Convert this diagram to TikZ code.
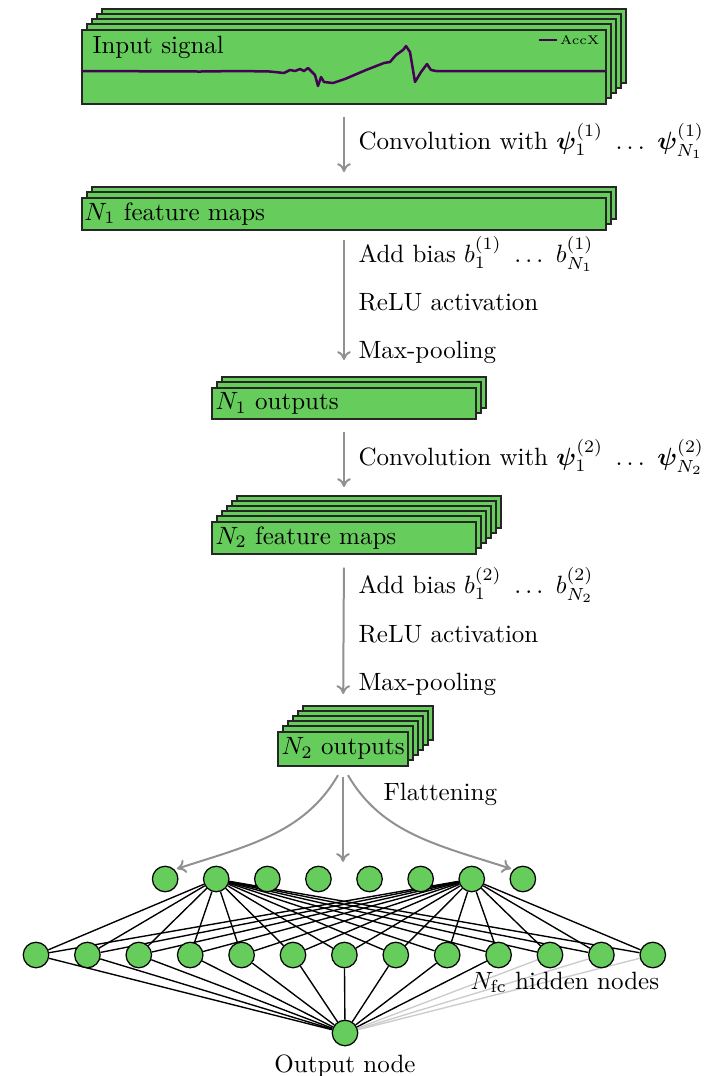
\documentclass[tikz,border=0pt]{standalone}
\usepackage{amsmath}
\usepackage{bm}
\usetikzlibrary{positioning,backgrounds,arrows.meta}

\definecolor{mapgreen}{RGB}{102,204,92}
\definecolor{accpurple}{RGB}{68,1,84}
\definecolor{flowgray}{RGB}{145,145,145}

\tikzset{
  mapbox/.style={draw=black!85, fill=mapgreen, line width=0.6pt},
  maptext/.style={anchor=west, inner sep=0pt},
  flow/.style={-{To[length=3.5pt,width=5.5pt]}, flowgray, line width=0.8pt},
  steptext/.style={anchor=base west, inner sep=0pt},
  neuron/.style={circle, draw=black, fill=mapgreen, line width=0.5pt, minimum size=10.2pt, inner sep=0pt},
  weight/.style={black, line width=0.55pt}
}

% stack of maps: name, centre x, top y, width, height, copies behind
\newcommand{\mapstack}[6]{
  \foreach \k in {#6,...,1}
    \draw[mapbox] (#2-#4/2+5*\k, #3-5*\k) rectangle ++(#4,#5);
  \node[mapbox, anchor=north, minimum width=#4*0.4pt, minimum height=#5*0.4pt, inner sep=0pt] (#1) at (#2,#3) {};
}

\begin{document}
\begin{tikzpicture}[x=0.4pt, y=-0.4pt]
  \useasboundingbox (0,0) rectangle (704,1076);
  % Input signal
  \mapstack{inp}{344}{29}{524}{74}{4}
  \node[steptext] (inptxt) at (92,53) {Input signal};
  \draw[accpurple, line width=1pt, line join=round] plot coordinates {(83,71) (200,71.5) (240,71) (270,71.5) (284,73)
    (290,70) (295,71) (300,69) (304,71) (308,68) (311,71) (315,75) (318,86) (321,77) (324,82)
    (333,83) (345,79) (366,70) (384,63) (390,62) (396,55) (403,50) (406,46) (410,52) (415,82)
    (421,72) (427,64) (431,70) (436,71) (605,71)};
  \node[anchor=west, inner sep=1pt, font=\tiny] (acclbl) at (557,40) {AccX};
  \draw[accpurple, line width=1pt] (acclbl.west) -- ++(-18,0);
  % Maps
  \mapstack{fm1}{344}{197}{524}{32}{2}
  \node[maptext, right=1pt of fm1.west] (fm1txt) {$N_1$ feature maps};
  \mapstack{out1}{344}{387}{264}{31}{2}
  \node[maptext, right=1.5pt of out1.west] (out1txt) {$N_1$ outputs};
  \mapstack{fm2}{344}{521}{264}{32}{5}
  \node[maptext, right=1.5pt of fm2.west] (fm2txt) {$N_2$ feature maps};
  \mapstack{out2}{343}{731}{130}{34}{5}
  \node[maptext, right=1.5pt of out2.west] (out2txt) {$N_2$ outputs};
  % Arrows
  \draw[flow, shorten <=4.8pt, shorten >=10pt] (inp.south) -- (fm1.north);
  \draw[flow, shorten <=3.6pt, shorten >=10.8pt] (fm1.south) -- (out1.north);
  \draw[flow, shorten <=4.8pt, shorten >=13.6pt] (out1.south) -- (fm2.north);
  \draw[flow, shorten <=5.2pt, shorten >=14.8pt] (fm2.south) -- (out2.north);
  % Steps
  \node[steptext] (conv1) at (358,149) {Convolution with $\bm{\psi}_1^{(1)}\ \ldots\ \bm{\psi}_{N_1}^{(1)}$};
  \node[steptext] (bias1) at (358,262) {Add bias $b_1^{(1)}\ \ldots\ b_{N_1}^{(1)}$};
  \node[steptext] (relu1) at (358,310) {ReLU activation};
  \node[steptext] (pool1) at (358,358) {Max-pooling};
  \node[steptext] (conv2) at (358,465) {Convolution with $\bm{\psi}_1^{(2)}\ \ldots\ \bm{\psi}_{N_2}^{(2)}$};
  \node[steptext] (bias2) at (358,593) {Add bias $b_1^{(2)}\ \ldots\ b_{N_2}^{(2)}$};
  \node[steptext] (relu2) at (358,642) {ReLU activation};
  \node[steptext] (pool2) at (358,690) {Max-pooling};
  \node[steptext] (flat) at (383,800) {Flattening};
  % Network
  \foreach \i in {1,...,8}
    \node[neuron] (f\i) at ({344+51.1*(\i-4.5)},879) {};
  \foreach \i in {1,...,13}
    \node[neuron] (h\i) at ({344.4+51.4*(\i-7)},955) {};
  \node[neuron] (o) at (345,1033) {};
  \node[below=0pt of o] (otxt) {Output node};
  \node[steptext] (hidtxt) at (470,989) {$N_{\mathrm{fc}}$ hidden nodes};
  \begin{scope}[on background layer]
    \foreach \i in {1,...,13} {
      \draw[weight] (f2) -- (h\i);
      \draw[weight] (f7) -- (h\i);
    }
    \foreach \i in {1,...,10}
      \draw[weight] (o) -- (h\i);
    \foreach \i in {11,12,13}
      \draw[weight, black!20] (o) -- (h\i);
  \end{scope}
  % Flattening arrows
  \draw[flow, shorten <=4pt, shorten >=1.5pt] (out2.south) -- (out2.south |- f4.north);
  \draw[flow, shorten <=4pt, shorten >=1pt] (out2.south) to[out=-120, in=18] (f1.north east);
  \draw[flow, shorten <=4pt, shorten >=1pt] (out2.south) to[out=-60, in=162] (f8.north west);
\end{tikzpicture}
\end{document}
